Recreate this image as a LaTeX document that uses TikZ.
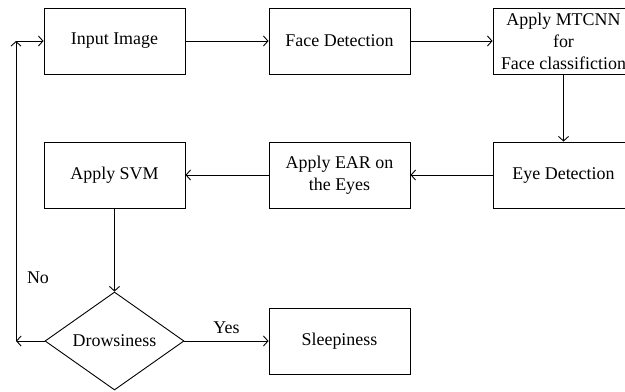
\documentclass[tikz,border=0pt]{standalone}
\usepackage{fontspec}
\setmainfont{Liberation Serif}
\usetikzlibrary{shapes.geometric, arrows.meta}

\tikzset{
    stepbox/.style={draw, line width=0.9bp, minimum width=141bp, minimum height=66bp, align=center, inner sep=1bp},
    decision/.style={draw, diamond, line width=0.9bp, minimum width=139bp, minimum height=98bp, inner sep=0pt},
    flow/.style={-{Straight Barb[length=4.5bp, width=10bp]}, line width=0.9bp}
}

\begin{document}
\begin{tikzpicture}[x=1bp, y=-1bp, font=\fontsize{18}{22}\selectfont]

            % Frame
            \clip (0,0) rectangle (625,391);

            % Boxes
            \node[stepbox] (input) at (114.5,41) {Input Image};
            \node[stepbox] (face) at (339.5,41) {Face Detection};
            \node[stepbox] (mtcnn) at (563.5,41) {Apply MTCNN\\for\\Face classifiction};
            \node[stepbox] (eye) at (563.5,175) {Eye Detection};
            \node[stepbox] (ear) at (339.5,175) {Apply EAR on\\the Eyes};
            \node[stepbox] (svm) at (114.5,175) {Apply SVM};
            \node[decision] (drowsy) at (114.5,341) {Drowsiness};
            \node[stepbox] (sleep) at (339.5,341) {Sleepiness};

            % Corners of the loop back
            \coordinate (lowturn) at (16,341);
            \coordinate (highturn) at (16,41);

            % Arrows
            \draw[flow] (input) -- (face);
            \draw[flow] (face) -- (mtcnn);
            \draw[flow] (mtcnn) -- (eye);
            \draw[flow] (eye) -- (ear);
            \draw[flow] (ear) -- (svm);
            \draw[flow] (svm) -- (drowsy);
            \draw[flow] (drowsy) -- node[above=4bp] (yes) {Yes} (sleep);
            \draw[flow] (drowsy) -- (lowturn);
            \draw[flow] (lowturn) -- (highturn);
            \draw[flow] (highturn) -- (input);

            % Labels
            \node (no) at (38,278) {No};

\end{tikzpicture}
\end{document}
